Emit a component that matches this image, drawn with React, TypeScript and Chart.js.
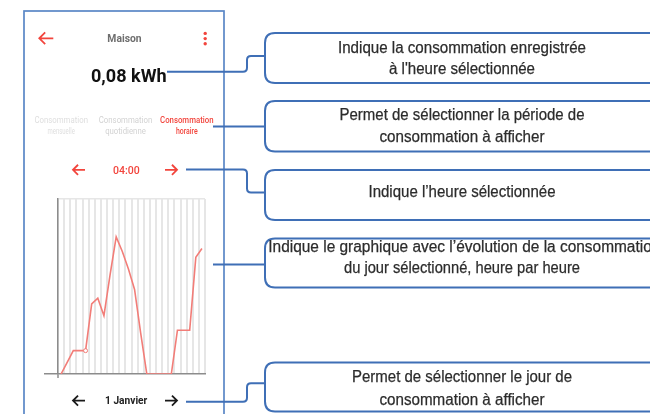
import React, { useEffect, useRef } from "react";
import { Chart, registerables } from "chart.js";

Chart.register(...registerables);

// ---------- data ----------
const hourLabels = [
  "00:00", "01:00", "02:00", "03:00", "04:00", "05:00", "06:00", "07:00",
  "08:00", "09:00", "10:00", "11:00", "12:00", "13:00", "14:00", "15:00",
  "16:00", "17:00", "18:00", "19:00", "20:00", "21:00", "22:00", "23:00",
];
const consumptionKWh = [
  0, 0.04, 0.08, 0.08, 0.08, 0.24, 0.26, 0.2, 0.34, 0.47, 0.42, 0.36,
  0.29, 0.14, 0, 0, 0, 0, 0, 0.15, 0.15, 0.15, 0.4, 0.43,
];
const selectedHourIndex = 4;
const yAxisMax = 0.6;

const headerTitle = "Maison";
const selectedValueText = "0,08 kWh";
const tabLines = [
  ["Consommation", "mensuelle"],
  ["Consommation", "quotidienne"],
  ["Consommation", "horaire"],
];
const selectedHourText = "04:00";
const selectedDayText = "1 Janvier";
const calloutLines = [
  ["Indique la consommation enregistrée", "à l'heure sélectionnée"],
  ["Permet de sélectionner la période de", "consommation à afficher"],
  ["Indique l’heure sélectionnée"],
  ["Indique le graphique avec l’évolution de la consommation", "du jour sélectionné, heure par heure"],
  ["Permet de sélectionner le jour de", "consommation à afficher"],
];

const RED = "#f2453d";
const LINE_RED = "#f27d78";
const BLUE = "#3f6fb6";
const FRAME = "#5a87c6";
const AXIS = "#8c8c8c";
const GRID = "#e6e6e6";
const UI_FONT = "Roboto, 'Noto Sans', sans-serif";
const CALLOUT_FONT = "'Liberation Sans Narrow', 'Liberation Sans', Arial, sans-serif";

function ConsumptionChart() {
  const ref = useRef<HTMLCanvasElement | null>(null);
  useEffect(() => {
    if (!ref.current) return;
    const chart = new Chart(ref.current, {
      type: "line",
      data: {
        labels: hourLabels,
        datasets: [
          {
            data: consumptionKWh,
            borderColor: LINE_RED,
            borderWidth: 1.6,
            tension: 0,
            pointRadius: (c: any) => (c.dataIndex === selectedHourIndex ? 2 : 0),
            pointBackgroundColor: "#ffffff",
            pointBorderColor: LINE_RED,
            pointBorderWidth: 1,
            pointHoverRadius: 0,
          },
        ],
      },
      options: {
        animation: false,
        responsive: false,
        events: [],
        layout: { padding: { top: 3, right: 3, bottom: 2, left: 0 } },
        plugins: { legend: { display: false }, tooltip: { enabled: false } },
        scales: {
          x: {
            type: "category",
            offset: true,
            ticks: { display: false },
            grid: {
              display: true,
              offset: true,
              color: GRID,
              lineWidth: 2,
              drawTicks: true,
              tickLength: 4,
              tickWidth: 1.5,
              tickColor: (c: any) => (c.index === 0 ? AXIS : "rgba(0,0,0,0)"),
            },
            border: { display: true, color: AXIS, width: 1.5 },
          },
          y: {
            min: 0,
            max: yAxisMax,
            ticks: { display: false, stepSize: 0.1 },
            grid: {
              display: true,
              color: (c: any) =>
                c.tick && Math.abs(c.tick.value - yAxisMax) < 1e-9 ? GRID : "rgba(0,0,0,0)",
              lineWidth: 1.5,
              drawTicks: true,
              tickLength: 14,
              tickWidth: 1.5,
              tickColor: (c: any) =>
                c.tick && c.tick.value === 0 ? AXIS : "rgba(0,0,0,0)",
            },
            border: { display: true, color: AXIS, width: 1.5 },
          },
        },
      },
    } as any);
    return () => chart.destroy();
  }, []);
  return (
    <canvas
      ref={ref}
      width={164}
      height={184}
      style={{ position: "absolute", left: 44, top: 196, width: 164, height: 184 }}
    />
  );
}

function LeftArrow({ cx, cy, w, color }: { cx: number; cy: number; w: number; color: string }) {
  const x0 = cx - w / 2;
  const x1 = cx + w / 2;
  const h = w * 0.42;
  return (
    <path
      d={`M ${x1} ${cy} H ${x0 + 0.8} M ${x0 + h} ${cy - h} L ${x0} ${cy} L ${x0 + h} ${cy + h}`}
      stroke={color}
      strokeWidth={1.8}
      fill="none"
      strokeLinejoin="miter"
    />
  );
}
function RightArrow({ cx, cy, w, color }: { cx: number; cy: number; w: number; color: string }) {
  const x0 = cx - w / 2;
  const x1 = cx + w / 2;
  const h = w * 0.42;
  return (
    <path
      d={`M ${x0} ${cy} H ${x1 - 0.8} M ${x1 - h} ${cy - h} L ${x1} ${cy} L ${x1 - h} ${cy + h}`}
      stroke={color}
      strokeWidth={1.8}
      fill="none"
      strokeLinejoin="miter"
    />
  );
}

const boxes = [
  { top: 33, bottom: 83 },
  { top: 101, bottom: 151.5 },
  { top: 170, bottom: 220 },
  { top: 238.5, bottom: 287.5 },
  { top: 362.5, bottom: 411.5 },
];
const boxTextBaselines = [
  [53.3, 74.3],
  [120, 141.7],
  [197],
  [251.7, 273.3],
  [382.3, 405],
];
const boxTextLengths = [
  [248, 146],
  [245, 165],
  [187],
  [392, 236],
  [220, 165],
];

function boxPath(top: number, bottom: number) {
  const l = 265;
  const r = 700;
  const rad = 10;
  return `M ${r} ${top} H ${l + rad} Q ${l} ${top} ${l} ${top + rad} V ${bottom - rad} Q ${l} ${bottom} ${l + rad} ${bottom} H ${r}`;
}

export default function App() {
  const tabColors = ["#dedede", "#d2d2d2", RED];
  const tabCenters = [61.2, 125.5, 186.8];
  const tabLine2Len = [27.3, 40.7, 21.7];
  return (
    <div
      style={{
        position: "absolute",
        left: 0,
        top: 0,
        width: 650,
        height: 414,
        overflow: "hidden",
        background: "#ffffff",
      }}
    >
      <ConsumptionChart />
      <svg
        width={650}
        height={414}
        style={{ position: "absolute", left: 0, top: 0, pointerEvents: "none" }}
      >
        {/* phone frame */}
        <rect x={24} y={11} width={200} height={440} fill="none" stroke={FRAME} strokeWidth={1.7} />

        {/* header */}
        <LeftArrow cx={46.3} cy={38.3} w={14} color={RED} />
        <text
          x={124.5}
          y={42.3}
          textAnchor="middle"
          fontFamily={UI_FONT}
          fontWeight={700}
          fontSize={11.5}
          fill="#6e6e6e"
          textLength={34.3}
          lengthAdjust="spacingAndGlyphs"
        >
          {headerTitle}
        </text>
        <circle cx={205.2} cy={33.4} r={1.7} fill={RED} />
        <circle cx={205.2} cy={38.6} r={1.7} fill={RED} />
        <circle cx={205.2} cy={43.8} r={1.7} fill={RED} />

        {/* value */}
        <text
          x={128.8}
          y={81.7}
          textAnchor="middle"
          fontFamily={UI_FONT}
          fontWeight={700}
          fontSize={18.5}
          fill="#111111"
          textLength={75.7}
          lengthAdjust="spacingAndGlyphs"
        >
          {selectedValueText}
        </text>

        {/* tabs */}
        {tabLines.map((lines, i) => (
          <g key={i}>
            <text
              x={tabCenters[i]}
              y={122.8}
              textAnchor="middle"
              fontFamily={UI_FONT}
              fontWeight={i === 2 ? 500 : 400}
              fontSize={9}
              fill={tabColors[i]}
              textLength={53.5}
              lengthAdjust="spacingAndGlyphs"
            >
              {lines[0]}
            </text>
            <text
              x={tabCenters[i]}
              y={134}
              textAnchor="middle"
              fontFamily={UI_FONT}
              fontWeight={i === 2 ? 500 : 400}
              fontSize={9}
              fill={tabColors[i]}
              textLength={tabLine2Len[i]}
              lengthAdjust="spacingAndGlyphs"
            >
              {lines[1]}
            </text>
          </g>
        ))}

        {/* hour selector */}
        <LeftArrow cx={79} cy={169.8} w={12} color={RED} />
        <text
          x={126.3}
          y={174.3}
          textAnchor="middle"
          fontFamily={UI_FONT}
          fontWeight={500}
          fontSize={11.5}
          fill={RED}
          textLength={26.7}
          lengthAdjust="spacingAndGlyphs"
        >
          {selectedHourText}
        </text>
        <RightArrow cx={171} cy={169.8} w={12} color={RED} />

        {/* day selector */}
        <LeftArrow cx={79} cy={400.6} w={12} color="#1a1a1a" />
        <text
          x={126.2}
          y={404.3}
          textAnchor="middle"
          fontFamily={UI_FONT}
          fontWeight={700}
          fontSize={10.8}
          fill="#222222"
          textLength={42.3}
          lengthAdjust="spacingAndGlyphs"
        >
          {selectedDayText}
        </text>
        <RightArrow cx={171} cy={400.6} w={12} color="#1a1a1a" />

        {/* connectors */}
        <g stroke={BLUE} strokeWidth={2} fill="none" strokeLinejoin="round">
          <path d="M 167 71.7 H 243 Q 247 71.7 247 67.7 V 60 Q 247 56 251 56 H 265" />
          <path d="M 213 126.5 H 265" />
          <path d="M 186 169.5 H 243 Q 247 169.5 247 173.5 V 188.5 Q 247 192.5 251 192.5 H 265" />
          <path d="M 213 264.5 H 265" />
          <path d="M 186 401.7 H 243 Q 247 401.7 247 397.7 V 387.3 Q 247 383.3 251 383.3 H 265" />
          {boxes.map((b, i) => (
            <path key={i} d={boxPath(b.top, b.bottom)} />
          ))}
        </g>

        {/* callout texts */}
        {calloutLines.map((lines, i) =>
          lines.map((t, j) => {
            const isClippedLine = i === 3 && j === 0;
            return (
              <text
                key={`${i}-${j}`}
                x={isClippedLine ? 268.3 : 462}
                y={boxTextBaselines[i][j]}
                textAnchor={isClippedLine ? "start" : "middle"}
                fontFamily={CALLOUT_FONT}
                fontSize={16}
                fill="#2c2c2c"
                stroke="#2c2c2c"
                strokeWidth={0.25}
                textLength={boxTextLengths[i][j]}
                lengthAdjust="spacingAndGlyphs"
              >
                {t}
              </text>
            );
          })
        )}
      </svg>
    </div>
  );
}
